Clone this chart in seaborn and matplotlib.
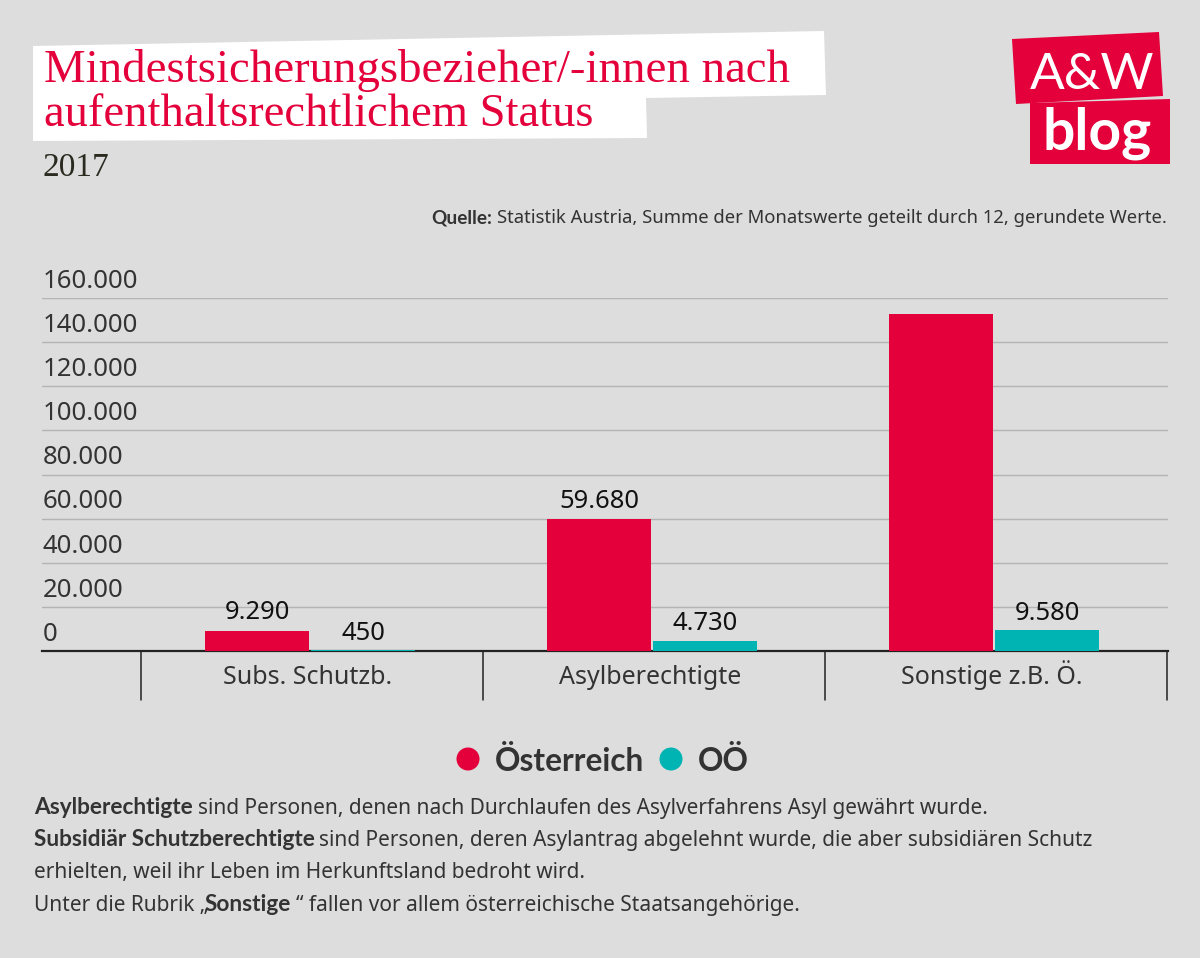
import matplotlib
matplotlib.use("Agg")
import matplotlib.pyplot as plt
from matplotlib.patches import Polygon, Circle
import seaborn as sns
import pandas as pd

categories = ["Subs. Schutzb.", "Asylberechtigte", "Sonstige z.B. Ö."]
austria = [9290, 59680, 152800]
ooe = [450, 4730, 9580]
austria_labels = ["9.290", "59.680", ""]
ooe_labels = ["450", "4.730", "9.580"]
y_ticks = [0, 20000, 40000, 60000, 80000, 100000, 120000, 140000, 160000]
y_labels = ["0", "20.000", "40.000", "60.000", "80.000", "100.000", "120.000", "140.000", "160.000"]
series_names = ["Österreich", "OÖ"]

RED = "#e4003a"
TEAL = "#00b4b4"
BG = "#dddddd"
DARK = "#333333"
FONT = "Noto Sans"
BOLD = "Lato"

sns.set_theme(style="white")
plt.rcParams["font.family"] = [FONT, "DejaVu Sans"]

W, H = 1200, 958
fig = plt.figure(figsize=(W / 100, H / 100), dpi=100, facecolor=BG)

def T(x, y, s, **kw):
    """Place text by its baseline, in reference pixels."""
    kw.setdefault("va", "baseline")
    if kw.get("fontweight") == "bold":
        kw.setdefault("family", BOLD)
    return fig.text(x / W, 1 - y / H, s, **kw)

bgax = fig.add_axes([0, 0, 1, 1], zorder=-1)
bgax.set_xlim(0, W); bgax.set_ylim(H, 0); bgax.axis("off")
bgax.add_patch(Polygon([(33, 46), (824, 31), (826, 95), (646, 98), (647, 138), (33, 141)], color="white", lw=0))
bgax.add_patch(Polygon([(1012, 39), (1159, 32), (1163, 96), (1016, 104)], color=RED, lw=0))
bgax.add_patch(Polygon([(1030, 103), (1170, 99), (1170, 164), (1030, 164)], color=RED, lw=0))

T(44, 82, "Mindestsicherungsbezieher/-innen nach", color=RED, fontsize=33.7, family="Liberation Serif")
T(44, 126, "aufenthaltsrechtlichem Status", color=RED, fontsize=33.5, family="Liberation Serif")
T(43, 176, "2017", color="#2a2a20", fontsize=24, family="Liberation Serif")

T(1030, 89, "A&W", color="white", fontsize=37, family="Lato")
T(1042, 150, "blog", color="white", fontsize=41, fontweight="bold")

T(431, 223, "Quelle:", color=DARK, fontsize=13.7, fontweight="bold")
T(497, 223, "Statistik Austria, Summe der Monatswerte geteilt durch 12, gerundete Werte.", color=DARK, fontsize=13.3)

left, right, top, bottom = 42, 1168, 298, 651
ax = fig.add_axes([left / W, 1 - bottom / H, (right - left) / W, (bottom - top) / H])
ax.set_facecolor("none")

df = pd.DataFrame({"Kategorie": categories * 2,
                   "Wert": austria + ooe,
                   "Serie": [series_names[0]] * 3 + [series_names[1]] * 3})
sns.barplot(data=df, x="Kategorie", y="Wert", hue="Serie", palette=[RED, TEAL], ax=ax,
            legend=False, saturation=1, width=0.62, gap=0.02, zorder=3, linewidth=0, edgecolor="none")
ax.set_xlabel("")
ax.set_ylabel("")

# category band: first group centred at pixel 310, spacing 342 px
px_per_cat = 342
centre0 = 310
ax.set_xlim(-(centre0 - left) / px_per_cat, (right - centre0) / px_per_cat)
ax.set_ylim(0, 160000)
ax.set_yticks(y_ticks)
ax.set_yticklabels([])
ax.grid(axis="y", color="#b4b4b4", lw=1, zorder=0)
ax.grid(axis="x", visible=False)
sns.despine(ax=ax, left=True, top=True, right=True)
ax.spines["bottom"].set_color("#222222")
ax.spines["bottom"].set_linewidth(1.6)
ax.tick_params(axis="both", length=0, labelbottom=False, labelleft=False)

for i, (a, o) in enumerate(zip(austria, ooe)):
    if austria_labels[i]:
        ax.annotate(austria_labels[i], (i - 0.155, a), xytext=(0, 4), textcoords="offset points",
                    ha="center", va="bottom", fontsize=18.4, color="#111111", zorder=4)
    ax.annotate(ooe_labels[i], (i + 0.155, o), xytext=(0, 3), textcoords="offset points",
                ha="center", va="bottom", fontsize=18.4, color="#111111", zorder=4)

for v, lab in zip(y_ticks, y_labels):
    ax.annotate(lab, (0, v), xycoords=("axes fraction", "data"), xytext=(0.5, 3), textcoords="offset points",
                ha="left", va="bottom", fontsize=18.5, color=DARK)

# category separators and labels
for k in range(4):
    xp = 141 + k * 342
    ax.plot([(xp - centre0) / px_per_cat] * 2, [0, -22000], color="#222222", lw=1.1, clip_on=False)
for i, c in enumerate(categories):
    ax.annotate(c, (i, 0), xycoords=("data", "axes fraction"), xytext=(-1.5, -24), textcoords="offset points",
                ha="center", va="baseline", fontsize=18, color=DARK)

# legend
bgax.add_patch(Circle((468, 759), 11.5, color=RED, lw=0))
T(495, 771, series_names[0], color=DARK, fontsize=22.7, fontweight="bold")
bgax.add_patch(Circle((671, 759), 11.5, color=TEAL, lw=0))
T(698, 771, series_names[1], color=DARK, fontsize=22.7, fontweight="bold")

# footnotes
fs = 15
fb = 16.3
T(34, 814, "Asylberechtigte", color=DARK, fontsize=fb, fontweight="bold")
T(198, 814, "sind Personen, denen nach Durchlaufen des Asylverfahrens Asyl gewährt wurde.", color=DARK, fontsize=fs)
T(34, 846, "Subsidiär Schutzberechtigte", color=DARK, fontsize=fb, fontweight="bold")
T(319, 846, "sind Personen, deren Asylantrag abgelehnt wurde, die aber subsidiären Schutz", color=DARK, fontsize=fs)
T(34, 878, "erhielten, weil ihr Leben im Herkunftsland bedroht wird.", color=DARK, fontsize=fs)
T(34, 911, "Unter die Rubrik „", color=DARK, fontsize=fs)
T(205, 911, "Sonstige", color=DARK, fontsize=fb, fontweight="bold")
T(296, 911, "“ fallen vor allem österreichische Staatsangehörige.", color=DARK, fontsize=fs)

fig.savefig("out.png", dpi=100, facecolor=BG)
